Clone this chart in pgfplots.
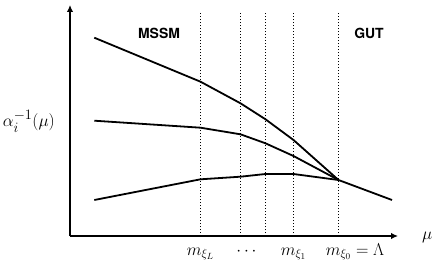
\documentclass[border=0pt]{standalone}
\usepackage{pgfplots}
\pgfplotsset{compat=1.18}
\usepackage{fontspec}
\newfontfamily\helv{TeX Gyre Heros}
\usetikzlibrary{arrows.meta}
\begin{document}
\begin{tikzpicture}
\begin{axis}[
  at={(0,0)}, anchor=origin,
  scale only axis, width=328bp, height=231bp,
  xmin=0, xmax=328, ymin=0, ymax=231,
  clip=false,
  axis lines=left,
  axis line style={line width=1.9bp, -{Latex[length=7bp,width=6.5bp]}},
  xtick={130.5,176.5,223.5,268.5},
  xticklabels={$m_{\xi_L}$,$\cdots$,$m_{\xi_1}$,$m_{\xi_0}\rlap{${}=\Lambda$}$},
  ytick=\empty,
  major tick length=0pt,
  xticklabel style={anchor=base, inner sep=0pt, yshift=-19bp, font=\fontsize{18}{20}\selectfont},
]
\addplot[line width=1.8bp, black] coordinates {(24.3,198.3) (130.5,154.3) (170.5,132.7) (195.5,116.7) (223.5,96) (268.5,56) (322,36)};
\addplot[line width=1.8bp, black] coordinates {(24.3,115.3) (130.5,108.3) (170.5,101.7) (195.5,92.7) (223.5,80) (268.5,56)};
\addplot[line width=1.8bp, black] coordinates {(24.3,36) (130.5,56.7) (170.5,59.3) (195.5,62) (223.5,62) (268.5,56)};
\foreach \xx in {130.5,170.5,195.5,223.5,268.5}{
  \edef\tmp{\noexpand\addplot[line width=1bp, black, dash pattern=on 1.5bp off 1.5bp] coordinates {(\xx,0) (\xx,224)};}
  \tmp
}
\node[font=\helv\bfseries\fontsize{14}{16}\selectfont] at (axis cs:89,203) {MSSM};
\node[font=\helv\bfseries\fontsize{14}{16}\selectfont] at (axis cs:299,203) {GUT};
\node[anchor=base east, inner sep=0pt, font=\fontsize{19}{21}\selectfont] at (axis cs:-15,109) {$\alpha_i^{-1}(\mu)$};
\node[anchor=west, inner sep=0pt, font=\fontsize{19}{21}\selectfont] at (axis cs:352,-1) {$\mu$};
\end{axis}
\path[use as bounding box] (-70bp,-29bp) rectangle (366bp,236bp);
\end{tikzpicture}
\end{document}
